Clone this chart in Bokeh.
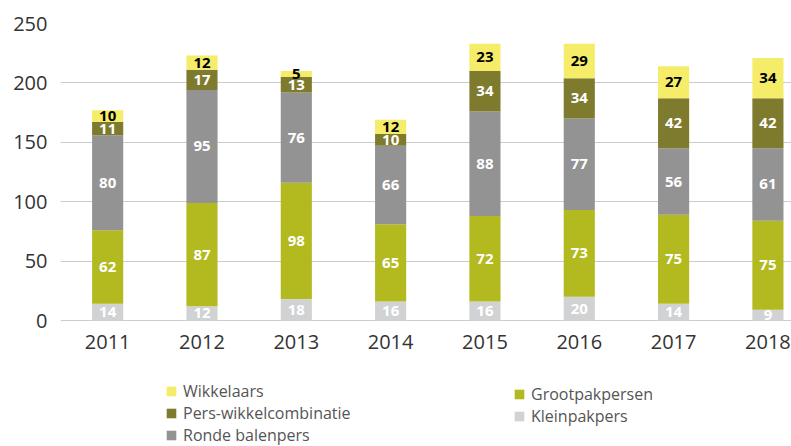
from bokeh.plotting import figure
from bokeh.models import Range1d, FixedTicker, Legend, LegendItem, ColumnDataSource
from bokeh.core.properties import value
from bokeh.embed import file_html
from bokeh.resources import INLINE

years = [2011, 2012, 2013, 2014, 2015, 2016, 2017, 2018]
kleinpakpers = [14, 12, 18, 16, 16, 20, 14, 9]
grootpakpersen = [62, 87, 98, 65, 72, 73, 75, 75]
ronde_balenpers = [80, 95, 76, 66, 88, 77, 56, 61]
pers_wikkel = [11, 17, 13, 10, 34, 34, 42, 42]
wikkelaars = [10, 12, 5, 12, 23, 29, 27, 34]
y_ticks = [0, 50, 100, 150, 200, 250]

series_names = ["Kleinpakpers", "Grootpakpersen", "Ronde balenpers",
                "Pers-wikkelcombinatie", "Wikkelaars"]
series_vals = [kleinpakpers, grootpakpersen, ronde_balenpers, pers_wikkel, wikkelaars]
colors = ["#D1D2D4", "#B2BA1F", "#939393", "#7E7B2F", "#F5EC6A"]
label_colors = ["white", "white", "white", "white", "black"]

FONT = "Open Sans"

data = {"x": years}
for n, v in zip(series_names, series_vals):
    data[n] = v
src = ColumnDataSource(data)

# frame: top at 23px, value 0 at 320px, bottom at 446px (legend lives below 0)
px_per_unit = 297.0 / 250.0
y_bottom = -126.0 / px_per_unit

p = figure(width=791, height=446, output_backend="svg", toolbar_location=None,
           x_range=Range1d(2010.5, 2018.25), y_range=Range1d(y_bottom, 250),
           min_border_left=60, min_border_right=0, min_border_top=23,
           min_border_bottom=0)
p.outline_line_color = None
p.background_fill_color = "white"
p.border_fill_color = "white"

renderers = p.vbar_stack(series_names, x="x", width=0.33, color=colors,
                         line_color=None, source=src)

# segment labels
for i, (vals, lc) in enumerate(zip(series_vals, label_colors)):
    mids = []
    for j in range(len(years)):
        base = sum(series_vals[k][j] for k in range(i))
        mids.append(base + vals[j] / 2.0)
    p.text(x=years, y=mids, text=[str(v) for v in vals], text_align="center",
           text_baseline="middle", text_color=lc, text_font=value(FONT),
           text_font_style="bold", text_font_size="15px")

# axes
p.xaxis.ticker = FixedTicker(ticks=years)
p.xaxis.fixed_location = 0
p.yaxis.ticker = FixedTicker(ticks=y_ticks)
for ax in (p.xaxis[0], p.yaxis[0]):
    ax.axis_line_color = None
    ax.major_tick_line_color = None
    ax.minor_tick_line_color = None
    ax.major_tick_out = 0
    ax.major_tick_in = 0
    ax.minor_tick_out = 0
    ax.major_label_text_font = FONT
    ax.major_label_text_font_size = "20px"
    ax.major_label_text_color = "#333333"
p.yaxis.major_label_standoff = 13
p.xaxis.major_label_standoff = 14

p.xgrid.grid_line_color = None
p.ygrid.grid_line_color = "#CCCCCC"
p.ygrid.grid_line_width = 1

def make_legend(items, loc):
    lg = Legend(items=items, location=loc, orientation="vertical",
                padding=0, margin=0, spacing=-3, border_line_alpha=0,
                background_fill_alpha=0, glyph_width=12, glyph_height=12,
                label_height=20, label_standoff=6,
                label_text_font=FONT, label_text_font_size="16px",
                label_text_color="#555555")
    p.add_layout(lg, "center")
    return lg

r = dict(zip(series_names, renderers))
make_legend([LegendItem(label="Wikkelaars", renderers=[r["Wikkelaars"]]),
             LegendItem(label="Pers-wikkelcombinatie", renderers=[r["Pers-wikkelcombinatie"]]),
             LegendItem(label="Ronde balenpers", renderers=[r["Ronde balenpers"]])],
            (105, 0))
make_legend([LegendItem(label="Grootpakpersen", renderers=[r["Grootpakpersen"]]),
             LegendItem(label="Kleinpakpers", renderers=[r["Kleinpakpers"]])],
            (453, 19))

open("out.html", "w").write(file_html(p, INLINE))
